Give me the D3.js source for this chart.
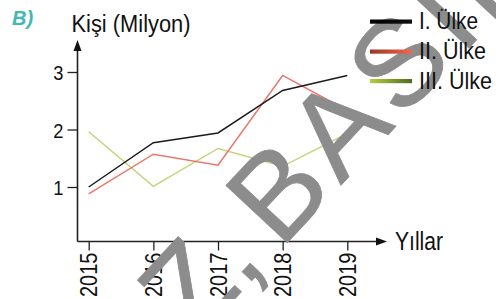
<!DOCTYPE html>
<html><head><meta charset="utf-8">
<script src="https://cdn.jsdelivr.net/npm/d3@7"></script>
<style>
html,body{margin:0;padding:0;background:#fff;}
svg{display:block;font-family:"Liberation Sans",Arial,sans-serif;}
</style></head>
<body>
<svg id="c" width="496" height="299"></svg>
<script>
const years = [2015, 2016, 2017, 2018, 2019];
const ulke1 = [1.0, 1.77, 1.94, 2.68, 2.94];
const ulke2 = [0.88, 1.57, 1.38, 2.94, 2.33];
const ulke3 = [1.96, 1.01, 1.67, 1.36, 1.93];
const seriesNames = ["I. Ülke", "II. Ülke", "III. Ülke"];
const yTicks = [1, 2, 3];
const yTitle = "Kişi (Milyon)";
const xTitle = "Yıllar";
const partLabel = "B)";
const watermarkMain = "BASILAMAZ";
const watermarkPrev = "Z,";

const svg = d3.select("#c");
const ink = "#222";
const squeeze = 0.87;
function condense(sel){
  sel.each(function(){
    const w = this.getComputedTextLength();
    d3.select(this).attr("textLength", w*squeeze).attr("lengthAdjust","spacingAndGlyphs");
  });
}

const x = d3.scaleLinear().domain([2015, 2019]).range([88.7, 347.3]);
const y = d3.scaleLinear().domain([0, 3]).range([244.5, 72]);
const axX = 77.5, axY = 241.5;

const defs = svg.append("defs");
function grad(id, c1, c2){
  const g = defs.append("linearGradient").attr("id", id);
  g.append("stop").attr("offset","0%").attr("stop-color",c1);
  g.append("stop").attr("offset","100%").attr("stop-color",c2);
}
grad("gBlack","#000","#111");
grad("gRed","#9a3526","#f2684c");
grad("gGreen","#b4d040","#4e6a22");

const series = [
  {name: seriesNames[0], vals: ulke1, color: "#1c1c1c", sw: "url(#gBlack)"},
  {name: seriesNames[1], vals: ulke2, color: "#ec7668", sw: "url(#gRed)"},
  {name: seriesNames[2], vals: ulke3, color: "#c3d47c", sw: "url(#gGreen)"}
];
const line = d3.line().x((d,i)=>x(years[i])).y(d=>y(d));
[series[2], series[1], series[0]].forEach(s=>{
  svg.append("path").attr("d", line(s.vals)).attr("fill","none")
    .attr("stroke", s.color).attr("stroke-width", 1.5).attr("stroke-linejoin","miter");
});

// y axis
const gy = svg.append("g").attr("transform",`translate(${axX},0)`)
  .call(d3.axisLeft(y).tickValues(yTicks).tickSize(10).tickFormat(d3.format("d")));
gy.select(".domain").remove();
gy.selectAll(".tick line").attr("stroke", ink).attr("stroke-width",1.3);
gy.selectAll(".tick text").attr("font-size",21).attr("fill","#111")
  .attr("x",-14).attr("dy","0.36em").call(condense);

// x axis
const gx = svg.append("g").attr("transform",`translate(0,${axY})`)
  .call(d3.axisBottom(x).tickValues(years).tickSize(9).tickFormat(d3.format("d")));
gx.select(".domain").remove();
gx.selectAll(".tick line").attr("stroke", ink).attr("stroke-width",1.3);
gx.selectAll(".tick text").attr("font-size",23).attr("fill","#111")
  .attr("transform","rotate(-90)").attr("text-anchor","end")
  .attr("x",-11).attr("y",0).attr("dy","0.36em").call(condense);

// axis lines with arrows
svg.append("line").attr("x1",axX).attr("x2",axX).attr("y1",axY).attr("y2",48)
  .attr("stroke",ink).attr("stroke-width",1.6);
svg.append("path").attr("d",`M${axX},40 L${axX-4},51 L${axX+4},51 Z`).attr("fill","#111");
svg.append("line").attr("x1",axX).attr("x2",380).attr("y1",axY).attr("y2",axY)
  .attr("stroke",ink).attr("stroke-width",1.6);
svg.append("path").attr("d",`M387,${axY} L376,${axY-4} L376,${axY+4} Z`).attr("fill","#111");

// titles
svg.append("text").attr("x",71.5).attr("y",31.5).attr("font-size",23).attr("fill","#111")
  .attr("textLength",119).attr("lengthAdjust","spacingAndGlyphs").text(yTitle);
svg.append("text").attr("x",395).attr("y",250).attr("font-size",25).attr("fill","#111")
  .attr("textLength",48).attr("lengthAdjust","spacingAndGlyphs").text(xTitle);
svg.append("text").attr("x",12).attr("y",25).attr("font-size",20).attr("font-style","italic")
  .attr("font-weight","bold").attr("fill","#45b8b4").text(partLabel);

// watermark (B stem corner at 287,243)
const fs = 122;
const wm = svg.append("g").attr("transform","translate(287,243) rotate(-47)")
  .attr("fill","#8c8c8c").attr("stroke","#8c8c8c").attr("stroke-width",0.8).attr("font-size",fs);
wm.append("text").attr("x",-0.079*fs).attr("y",0).attr("letter-spacing",7).text(watermarkMain);
wm.append("text").attr("x",-29).attr("y",0).attr("text-anchor","end").text(watermarkPrev);

// legend on top
const legY = [21.5, 51.5, 81];
const legW = [59, 67, 73];
series.forEach((s,i)=>{
  svg.append("rect").attr("x",370).attr("y",legY[i]-2).attr("width",42).attr("height",4.2)
    .attr("fill", s.sw);
  svg.append("text").attr("x",419).attr("y",legY[i]+7.8).attr("font-size",24).attr("fill","#111")
    .attr("textLength",legW[i]).attr("lengthAdjust","spacingAndGlyphs").text(s.name);
});
</script>
</body></html>
